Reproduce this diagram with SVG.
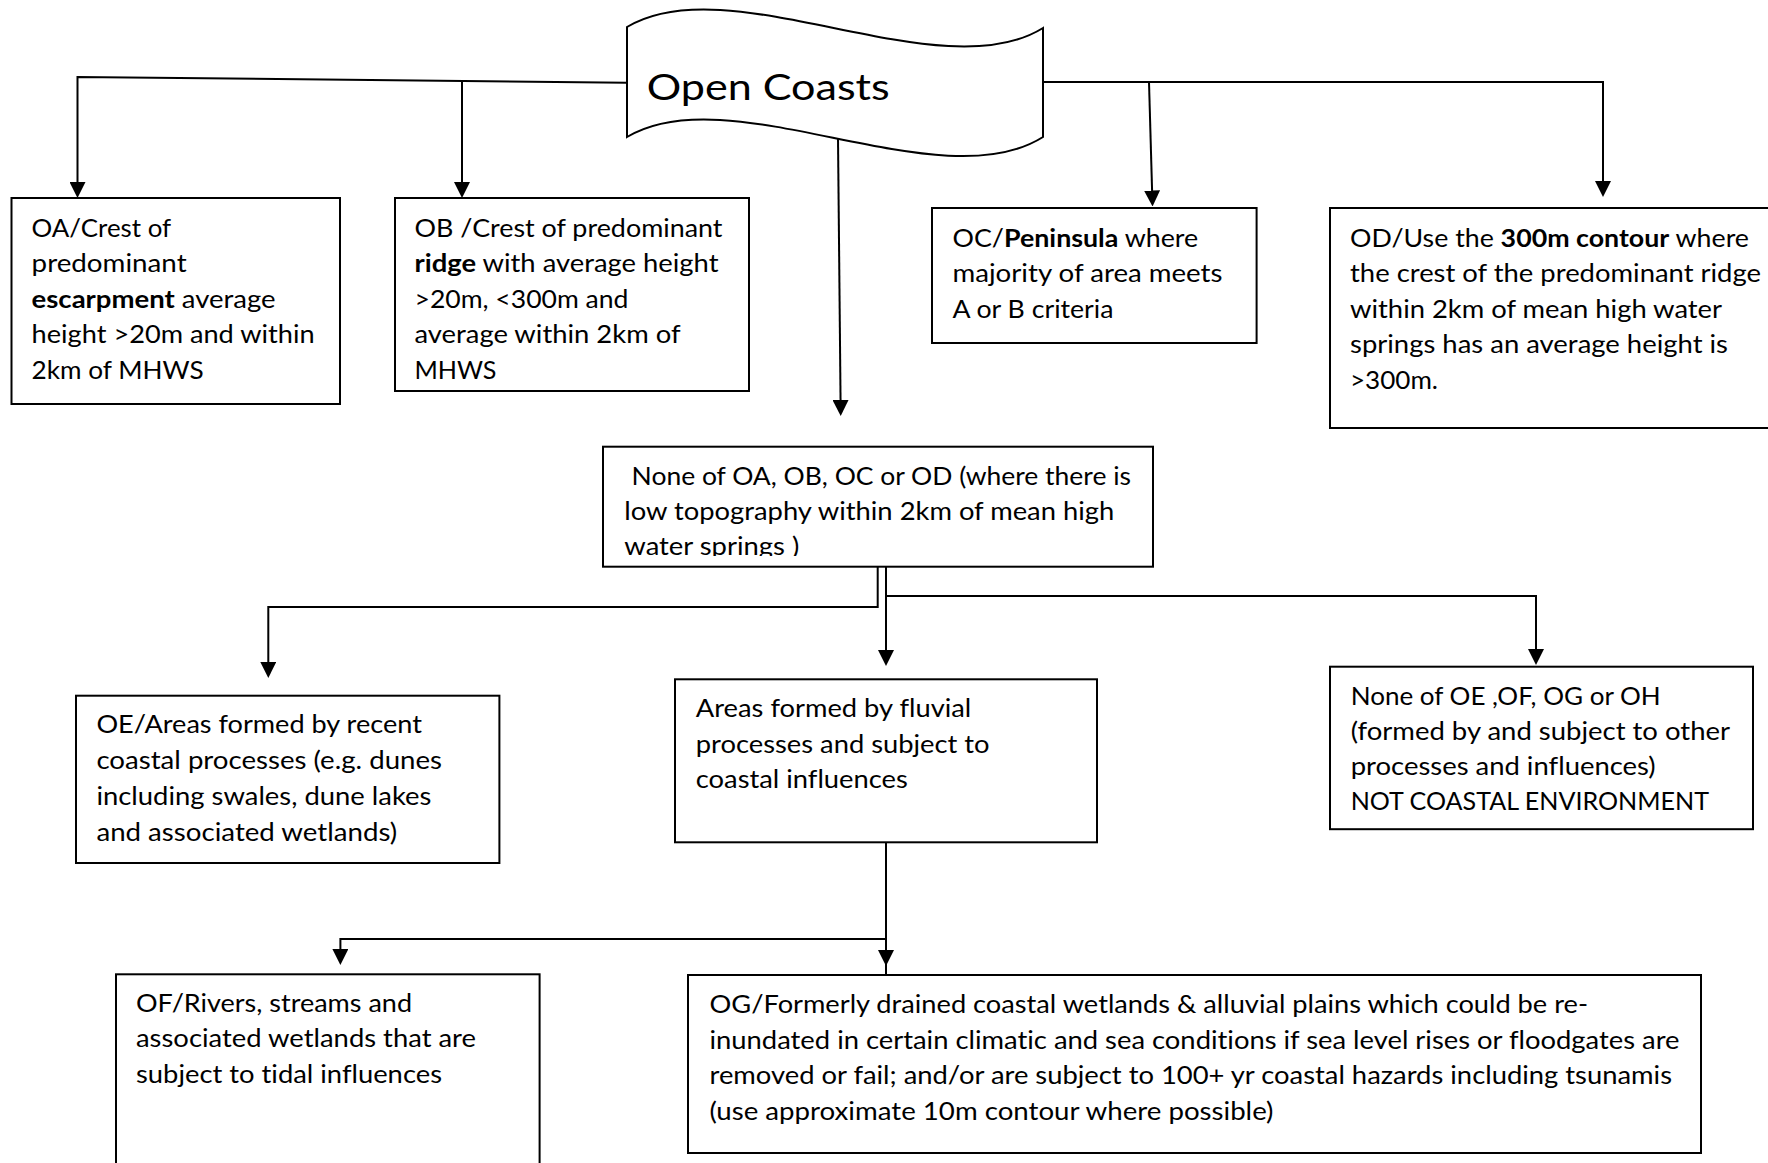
<svg xmlns="http://www.w3.org/2000/svg" width="1768" height="1163" viewBox="0 0 1768 1163">
<style>
.box{fill:#fff;stroke:#000;stroke-width:2}
.ln{fill:none;stroke:#000;stroke-width:2}
.t{font-family:Lato,"Open Sans",sans-serif;font-size:25.5px;fill:#000;font-variant-ligatures:none;font-feature-settings:"liga" 0,"clig" 0}
.b{font-weight:bold}
.title{font-family:Lato,"Open Sans",sans-serif;font-size:36px;fill:#000;font-variant-ligatures:none}
</style>
<defs>
<marker id="ah" markerUnits="userSpaceOnUse" markerWidth="16" markerHeight="16" viewBox="0 0 16 16" refX="4" refY="8" orient="auto">
<path d="M0,0 L16,8 L0,16 Z" fill="#000"/>
</marker>
<clipPath id="clipNone"><rect x="603" y="446" width="550" height="110"/></clipPath>
</defs>
<rect width="1768" height="1163" fill="#fff"/>

<g id="connectors">
<path class="ln" d="M627,82.7 L77.5,77 L77.5,186" marker-end="url(#ah)"/>
<path class="ln" d="M462,80.8 L462,186" marker-end="url(#ah)"/>
<path class="ln" d="M838,138 L840.6,404" marker-end="url(#ah)"/>
<path class="ln" d="M1043,82 L1603,82 L1603,185" marker-end="url(#ah)"/>
<path class="ln" d="M1149,82 L1152.2,194.5" marker-end="url(#ah)"/>
<path class="ln" d="M877.7,567 L877.7,607 L268.3,607 L268.3,666" marker-end="url(#ah)"/>
<path class="ln" d="M886,567 L886,654" marker-end="url(#ah)"/>
<path class="ln" d="M886,596 L1536,596 L1536,653" marker-end="url(#ah)"/>
<path class="ln" d="M886,842 L886,954" marker-end="url(#ah)"/>
<path class="ln" d="M886,960 L886,975"/>
<path class="ln" d="M886,939 L340.4,939 L340.4,953" marker-end="url(#ah)"/>
</g>

<g id="open-coasts">
<path class="box" d="M627,27 C730,-35 940,92 1043,28 L1043,137 C940,202 730,75 627,137 Z"/>
<text class="title" x="646.7" y="100" textLength="243" lengthAdjust="spacingAndGlyphs">Open Coasts</text>
</g>

<g id="OA">
<rect class="box" x="11.5" y="198" width="328.5" height="206"/>
<text class="t" x="31.6" y="236.5" textLength="139.5" lengthAdjust="spacingAndGlyphs">OA/Crest of</text>
<text class="t" x="31.6" y="272" textLength="155" lengthAdjust="spacingAndGlyphs">predominant</text>
<text class="t" x="31.6" y="307.5" textLength="244" lengthAdjust="spacingAndGlyphs"><tspan class="b">escarpment</tspan> average</text>
<text class="t" x="31.6" y="343" textLength="283" lengthAdjust="spacingAndGlyphs">height &gt;20m and within</text>
<text class="t" x="31.6" y="378.5" textLength="172" lengthAdjust="spacingAndGlyphs">2km of MHWS</text>
</g>

<g id="OB">
<rect class="box" x="395" y="198" width="354" height="193"/>
<text class="t" x="414.5" y="236.5" textLength="308" lengthAdjust="spacingAndGlyphs">OB /Crest of predominant</text>
<text class="t" x="414.5" y="272" textLength="304" lengthAdjust="spacingAndGlyphs"><tspan class="b">ridge</tspan> with average height</text>
<text class="t" x="414.5" y="307.5" textLength="214" lengthAdjust="spacingAndGlyphs">&gt;20m, &lt;300m and</text>
<text class="t" x="414.5" y="343" textLength="266" lengthAdjust="spacingAndGlyphs">average within 2km of</text>
<text class="t" x="414.5" y="378.5" textLength="82" lengthAdjust="spacingAndGlyphs">MHWS</text>
</g>

<g id="OC">
<rect class="box" x="932" y="208" width="324.6" height="135"/>
<text class="t" x="952.5" y="246.5" textLength="245.7" lengthAdjust="spacingAndGlyphs">OC/<tspan class="b">Peninsula</tspan> where</text>
<text class="t" x="952.5" y="282" textLength="270" lengthAdjust="spacingAndGlyphs">majority of area meets</text>
<text class="t" x="952.5" y="317.5" textLength="161" lengthAdjust="spacingAndGlyphs">A or B criteria</text>
</g>

<g id="OD">
<rect class="box" x="1330" y="208" width="460" height="220"/>
<text class="t" x="1350" y="246.5" textLength="399" lengthAdjust="spacingAndGlyphs">OD/Use the <tspan class="b">300m contour</tspan> where</text>
<text class="t" x="1350" y="282" textLength="411" lengthAdjust="spacingAndGlyphs">the crest of the predominant ridge</text>
<text class="t" x="1350" y="317.5" textLength="372" lengthAdjust="spacingAndGlyphs">within 2km of mean high water</text>
<text class="t" x="1350" y="353" textLength="378" lengthAdjust="spacingAndGlyphs">springs has an average height is</text>
<text class="t" x="1350" y="388.5" textLength="88" lengthAdjust="spacingAndGlyphs">&gt;300m.</text>
</g>

<g id="none-of-OA-OD">
<rect class="box" x="603" y="446.7" width="550" height="120"/>
<text class="t" x="631.6" y="485" textLength="499.4" lengthAdjust="spacingAndGlyphs">None of OA, OB, OC or OD (where there is</text>
<text class="t" x="624.3" y="520" textLength="490" lengthAdjust="spacingAndGlyphs">low topography within 2km of mean high</text>
<text class="t" x="624.3" y="555" textLength="175" lengthAdjust="spacingAndGlyphs" clip-path="url(#clipNone)">water springs )</text>
</g>

<g id="OE">
<rect class="box" x="76" y="695.7" width="423.4" height="167.3"/>
<text class="t" x="96.4" y="733" textLength="325.5" lengthAdjust="spacingAndGlyphs">OE/Areas formed by recent</text>
<text class="t" x="96.4" y="769" textLength="345.6" lengthAdjust="spacingAndGlyphs">coastal processes (e.g. dunes</text>
<text class="t" x="96.4" y="805" textLength="335" lengthAdjust="spacingAndGlyphs">including swales, dune lakes</text>
<text class="t" x="96.4" y="841" textLength="300.8" lengthAdjust="spacingAndGlyphs">and associated wetlands)</text>
</g>

<g id="fluvial">
<rect class="box" x="675" y="679.3" width="422" height="163"/>
<text class="t" x="695.8" y="717" textLength="275.5" lengthAdjust="spacingAndGlyphs">Areas formed by fluvial</text>
<text class="t" x="695.8" y="752.5" textLength="293.8" lengthAdjust="spacingAndGlyphs">processes and subject to</text>
<text class="t" x="695.8" y="788" textLength="212" lengthAdjust="spacingAndGlyphs">coastal influences</text>
</g>

<g id="not-coastal">
<rect class="box" x="1330" y="666.7" width="423" height="162.5"/>
<text class="t" x="1350.7" y="705" textLength="310" lengthAdjust="spacingAndGlyphs">None of OE ,OF, OG or OH</text>
<text class="t" x="1350.7" y="740" textLength="379.3" lengthAdjust="spacingAndGlyphs">(formed by and subject to other</text>
<text class="t" x="1350.7" y="775" textLength="305" lengthAdjust="spacingAndGlyphs">processes and influences)</text>
<text class="t" x="1350.7" y="810" textLength="358.3" lengthAdjust="spacingAndGlyphs">NOT COASTAL ENVIRONMENT</text>
</g>

<g id="OF">
<rect class="box" x="116" y="974.3" width="423.6" height="220"/>
<text class="t" x="136" y="1011.5" textLength="276" lengthAdjust="spacingAndGlyphs">OF/Rivers, streams and</text>
<text class="t" x="136" y="1047" textLength="340" lengthAdjust="spacingAndGlyphs">associated wetlands that are</text>
<text class="t" x="136" y="1082.5" textLength="306" lengthAdjust="spacingAndGlyphs">subject to tidal influences</text>
</g>

<g id="OG">
<rect class="box" x="688" y="975" width="1013" height="178"/>
<text class="t" x="709.5" y="1013" textLength="878.5" lengthAdjust="spacingAndGlyphs">OG/Formerly drained coastal wetlands &amp; alluvial plains which could be re-</text>
<text class="t" x="709.5" y="1048.5" textLength="970" lengthAdjust="spacingAndGlyphs">inundated in certain climatic and sea conditions if sea level rises or floodgates are</text>
<text class="t" x="709.5" y="1084" textLength="962.5" lengthAdjust="spacingAndGlyphs">removed or fail; and/or are subject to 100+ yr coastal hazards including tsunamis</text>
<text class="t" x="709.5" y="1119.5" textLength="564" lengthAdjust="spacingAndGlyphs">(use approximate 10m contour where possible)</text>
</g>
</svg>
